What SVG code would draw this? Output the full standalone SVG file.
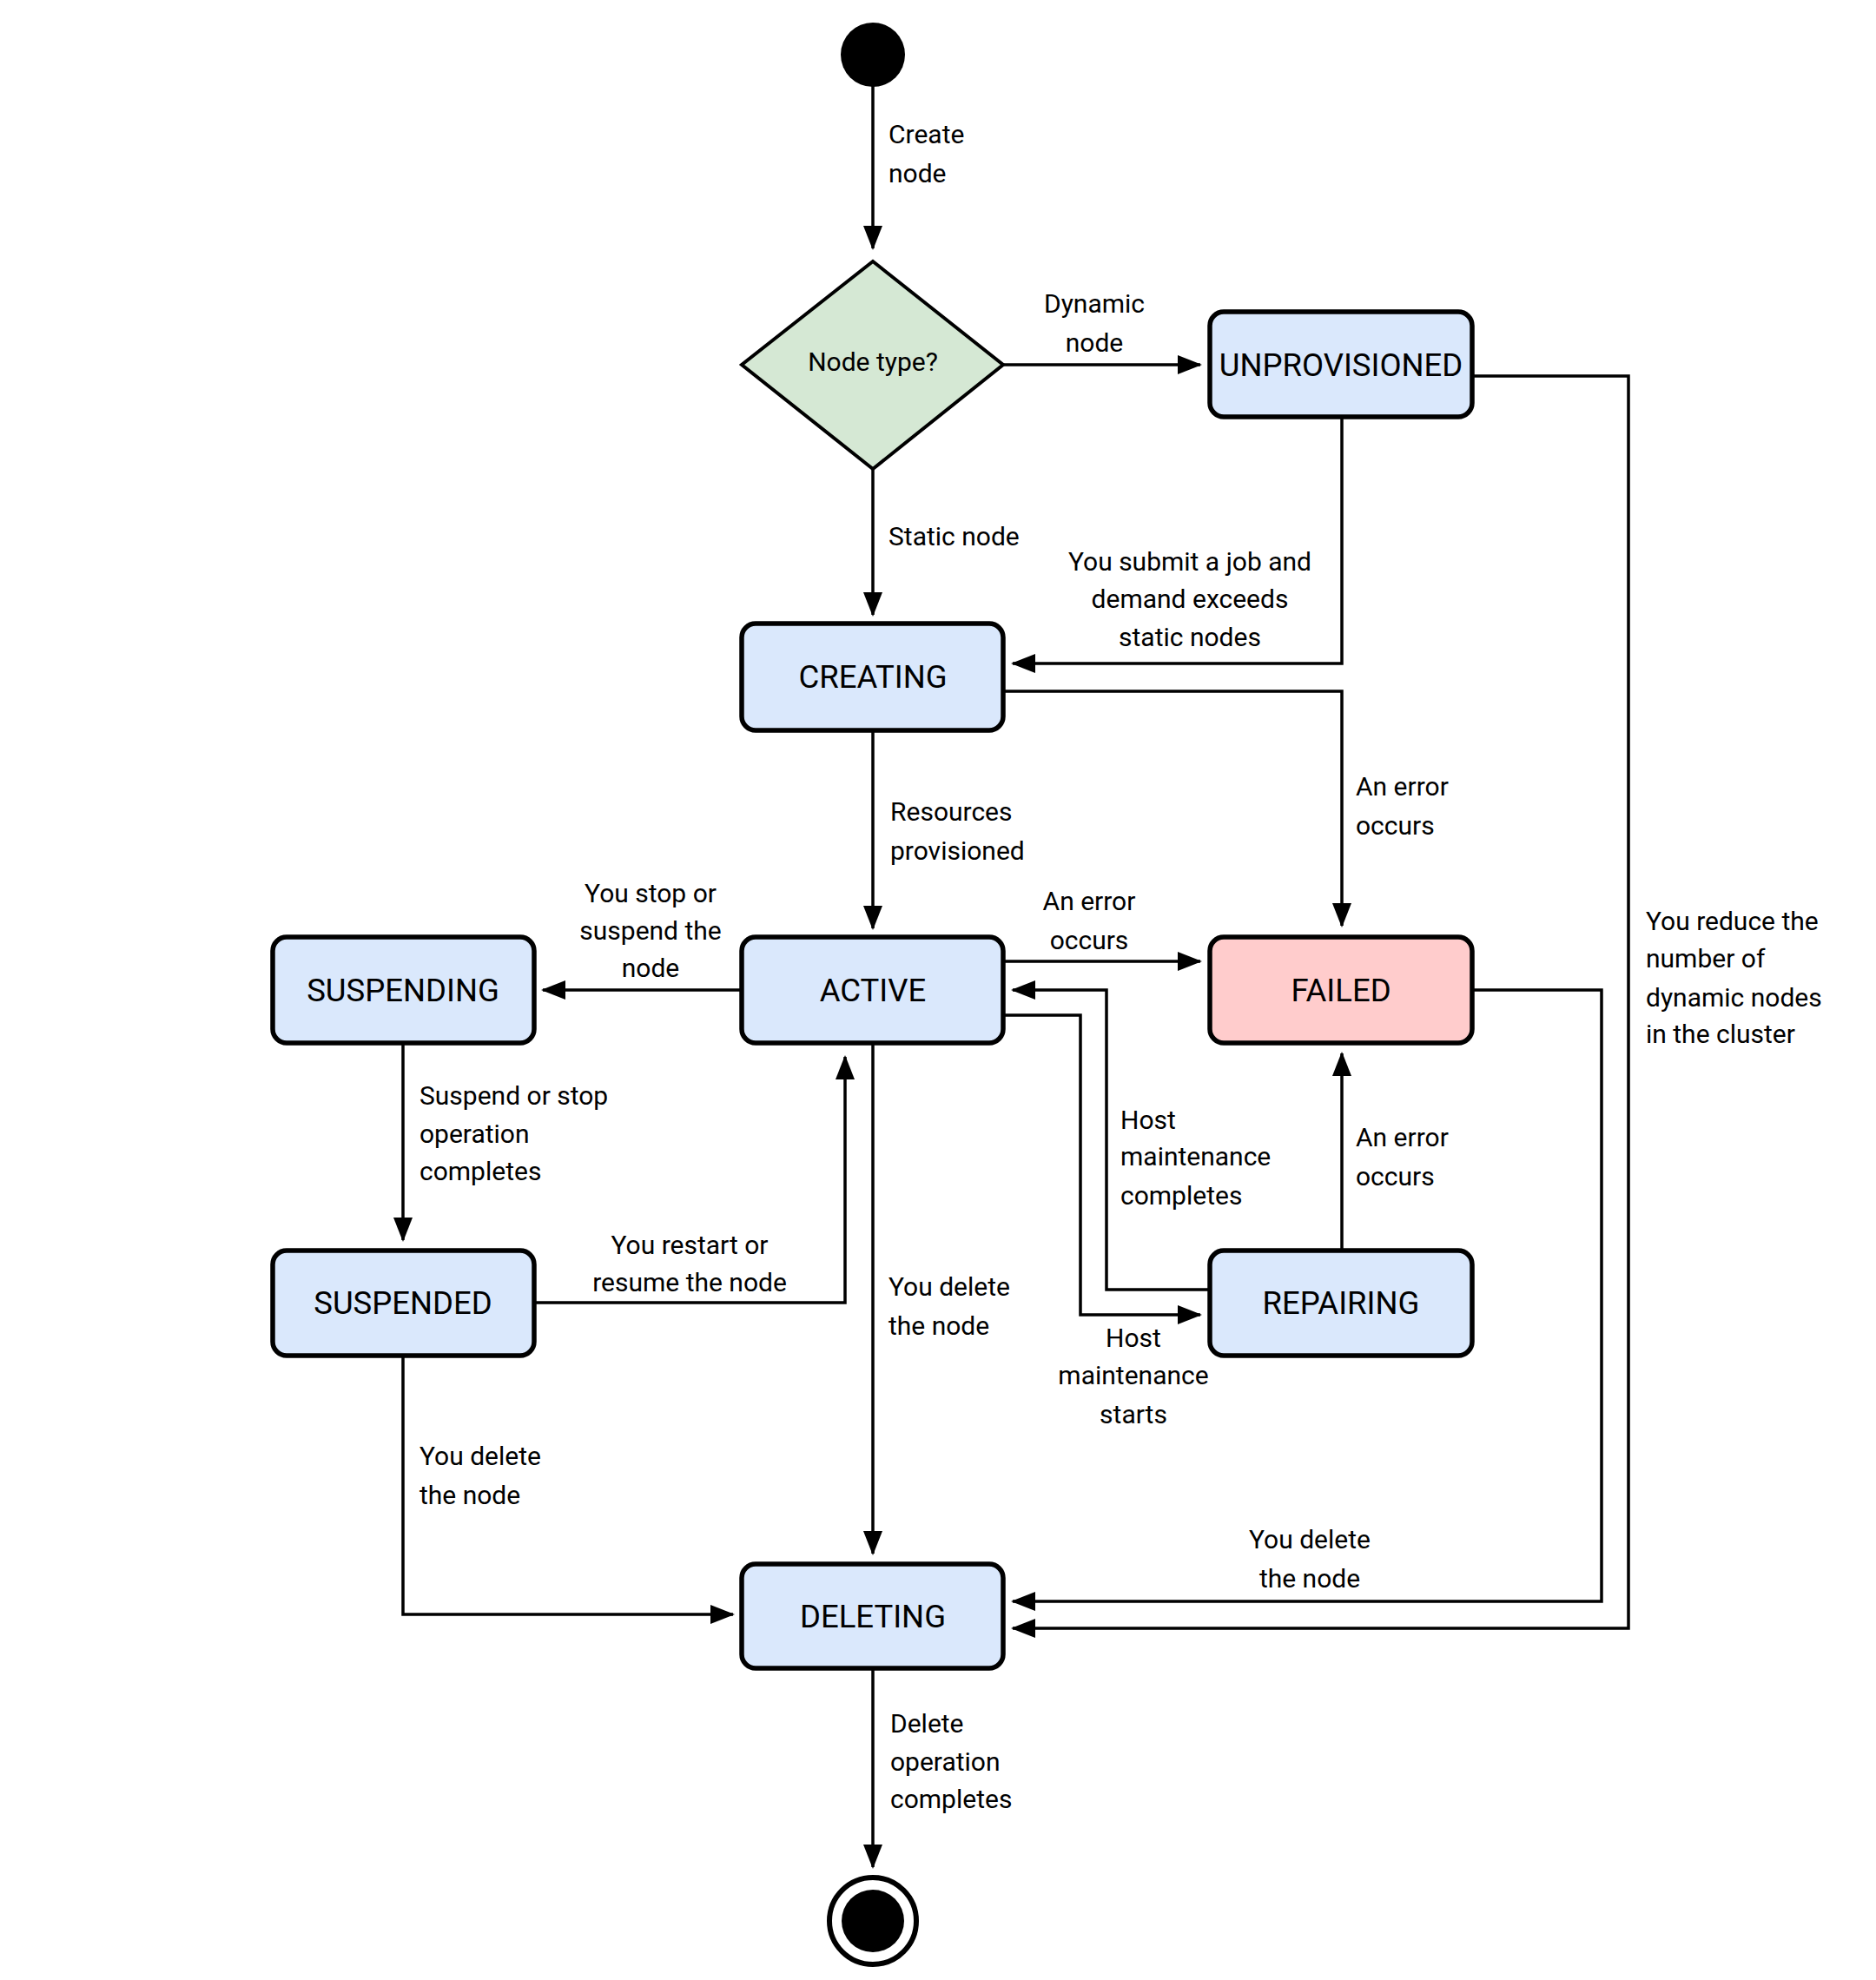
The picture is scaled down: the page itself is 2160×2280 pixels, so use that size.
<svg xmlns="http://www.w3.org/2000/svg" width="2160" height="2280" viewBox="0 0 2160 2280">
<defs>
<marker id="arr" markerUnits="userSpaceOnUse" markerWidth="28" markerHeight="22" refX="26" refY="11" orient="auto">
<path d="M0,0 L28,11 L0,22 Z" fill="#000"/>
</marker>
<style>
.box{fill:#dae8fc;stroke:#000;stroke-width:5.5}
.fail{fill:#ffcccc;stroke:#000;stroke-width:5.5}
.dia{fill:#d5e8d4;stroke:#000;stroke-width:4}
.nt{font-family:Roboto,"Liberation Sans",sans-serif;font-size:36.5px;fill:#000;text-anchor:middle}
.lb{font-family:Roboto,"Liberation Sans",sans-serif;font-size:30px;fill:#000}
.m{text-anchor:middle}
.c{fill:none;stroke:#000;stroke-width:3.5;marker-end:url(#arr)}
</style>
</defs>
<rect width="2160" height="2280" fill="#fff"/>
<g id="connectors">
<path class="c" d="M1005,99 V286"/>
<path class="c" d="M1155,420 H1382"/>
<path class="c" d="M1005,540 V708"/>
<path class="c" d="M1545,480 V764 H1166"/>
<path class="c" d="M1155,796 H1545 V1066"/>
<path class="c" d="M1005,841 V1069"/>
<path class="c" d="M854,1140 H625"/>
<path class="c" d="M1155,1107 H1382"/>
<path class="c" d="M1393,1485 H1274 V1140 H1166"/>
<path class="c" d="M1155,1169 H1244 V1514 H1382"/>
<path class="c" d="M1545,1440 V1213"/>
<path class="c" d="M464,1201 V1428"/>
<path class="c" d="M615,1500 H973 V1217"/>
<path class="c" d="M1005,1201 V1789"/>
<path class="c" d="M464,1561 V1859 H844"/>
<path class="c" d="M1695,1140 H1844 V1844 H1166"/>
<path class="c" d="M1695,433 H1875 V1875 H1166"/>
<path class="c" d="M1005,1921 V2150"/>
</g>
<g id="labels">
<text class="lb" x="1023" y="165">Create</text>
<text class="lb" x="1023" y="210">node</text>
<text class="lb m" x="1260" y="360">Dynamic</text>
<text class="lb m" x="1260" y="405">node</text>
<text class="lb" x="1023" y="628">Static node</text>
<text class="lb m" x="1370" y="657">You submit a job and</text>
<text class="lb m" x="1370" y="700">demand exceeds</text>
<text class="lb m" x="1370" y="744">static nodes</text>
<text class="lb" x="1561" y="916">An error</text>
<text class="lb" x="1561" y="961">occurs</text>
<text class="lb" x="1025" y="945">Resources</text>
<text class="lb" x="1025" y="990">provisioned</text>
<text class="lb m" x="749" y="1039">You stop or</text>
<text class="lb m" x="749" y="1082">suspend the</text>
<text class="lb m" x="749" y="1125">node</text>
<text class="lb m" x="1254" y="1048">An error</text>
<text class="lb m" x="1254" y="1093">occurs</text>
<text class="lb" x="1290" y="1300">Host</text>
<text class="lb" x="1290" y="1342">maintenance</text>
<text class="lb" x="1290" y="1387">completes</text>
<text class="lb m" x="1305" y="1551">Host</text>
<text class="lb m" x="1305" y="1594">maintenance</text>
<text class="lb m" x="1305" y="1639">starts</text>
<text class="lb" x="1561" y="1320">An error</text>
<text class="lb" x="1561" y="1365">occurs</text>
<text class="lb" x="483" y="1272">Suspend or stop</text>
<text class="lb" x="483" y="1316">operation</text>
<text class="lb" x="483" y="1359">completes</text>
<text class="lb m" x="794" y="1444">You restart or</text>
<text class="lb m" x="794" y="1487">resume the node</text>
<text class="lb" x="1023" y="1492">You delete</text>
<text class="lb" x="1023" y="1537">the node</text>
<text class="lb" x="483" y="1687">You delete</text>
<text class="lb" x="483" y="1732">the node</text>
<text class="lb m" x="1508" y="1783">You delete</text>
<text class="lb m" x="1508" y="1828">the node</text>
<text class="lb" x="1895" y="1071">You reduce the</text>
<text class="lb" x="1895" y="1114">number of</text>
<text class="lb" x="1895" y="1159">dynamic nodes</text>
<text class="lb" x="1895" y="1201">in the cluster</text>
<text class="lb" x="1025" y="1995">Delete</text>
<text class="lb" x="1025" y="2039">operation</text>
<text class="lb" x="1025" y="2082">completes</text>
</g>
<g id="start"><circle cx="1005" cy="63" r="37" fill="#000"/></g>
<g id="decision">
<polygon class="dia" points="1005,301 1155,420 1005,540 854,420"/>
<text class="lb m" x="1005" y="427">Node type?</text>
</g>
<g id="unprovisioned"><rect class="box" x="1393" y="359" width="302" height="121" rx="16"/><text class="nt" x="1544" y="433">UNPROVISIONED</text></g>
<g id="creating"><rect class="box" x="854" y="718" width="301" height="123" rx="16"/><text class="nt" x="1005" y="792">CREATING</text></g>
<g id="active"><rect class="box" x="854" y="1079" width="301" height="122" rx="16"/><text class="nt" x="1005" y="1153">ACTIVE</text></g>
<g id="failed"><rect class="fail" x="1393" y="1079" width="302" height="122" rx="16"/><text class="nt" x="1544" y="1153">FAILED</text></g>
<g id="suspending"><rect class="box" x="314" y="1079" width="301" height="122" rx="16"/><text class="nt" x="464" y="1153">SUSPENDING</text></g>
<g id="suspended"><rect class="box" x="314" y="1440" width="301" height="121" rx="16"/><text class="nt" x="464" y="1513">SUSPENDED</text></g>
<g id="repairing"><rect class="box" x="1393" y="1440" width="302" height="121" rx="16"/><text class="nt" x="1544" y="1513">REPAIRING</text></g>
<g id="deleting"><rect class="box" x="854" y="1801" width="301" height="120" rx="16"/><text class="nt" x="1005" y="1874">DELETING</text></g>
<g id="end"><circle cx="1005" cy="2212" r="50" fill="#fff" stroke="#000" stroke-width="6"/><circle cx="1005" cy="2212" r="36" fill="#000"/></g>
</svg>
